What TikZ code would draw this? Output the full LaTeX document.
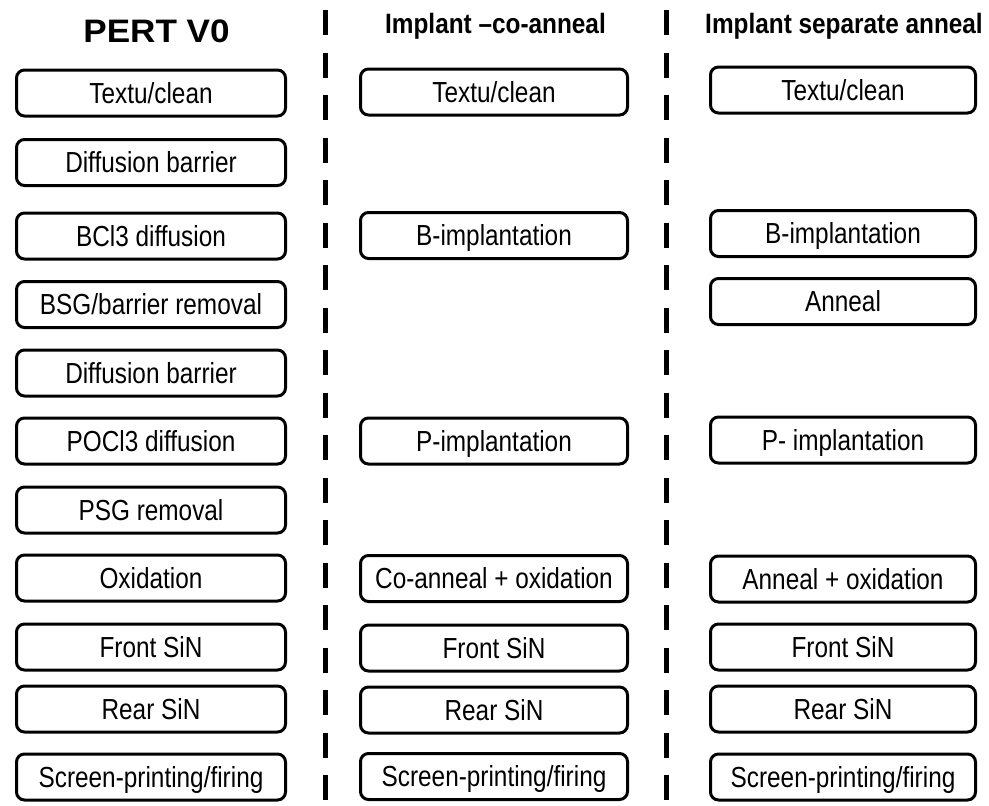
\documentclass[tikz,border=0pt]{standalone}
\usepackage{fontspec}
\newfontfamily\bodyfont[FakeStretch=0.84]{Liberation Sans}
\newfontfamily\headfont[FakeStretch=0.87]{Liberation Sans Bold}
\newfontfamily\pertfont[FakeStretch=1.08]{Liberation Sans Bold}
\tikzset{
  procbox/.style={draw=black, line width=3pt, rounded corners=8pt, fill=white,
    minimum height=46pt, inner sep=0pt, text height=20.8pt, text depth=0pt,
    font=\bodyfont\fontsize{29}{29}\selectfont},
  colA/.style={procbox, minimum width=269pt},
  colB/.style={procbox, minimum width=267pt},
  colC/.style={procbox, minimum width=265pt},
  header/.style={anchor=base, inner sep=0pt, font=\headfont\fontsize{28}{28}\selectfont},
  sepline/.style={line width=5pt, dash pattern=on 25pt off 17.5pt}
}
\begin{document}
\begin{tikzpicture}[x=1pt,y=-1pt]
\useasboundingbox[fill=white] (0,0) rectangle (989,806);
% headers
\node[anchor=base, inner sep=0pt, font=\pertfont\fontsize{32.5}{32.5}\selectfont] (h1) at (156.5,42.5) {PERT V0};
\node[header] (h2) at (495.5,33.3) {Implant –co-anneal};
\node[header] (h3) at (844,33.3) {Implant separate anneal};
% dashed separators
\coordinate (s1a) at (325,10);
\coordinate (s1b) at (325,806);
\coordinate (s2a) at (666,10);
\coordinate (s2b) at (666,806);
\draw[sepline] (s1a) -- (s1b);
\draw[sepline] (s2a) -- (s2b);
% column 1
\node[colA] (a1) at (151,93) {Textu/clean};
\node[colA] (a2) at (151,162.5) {Diffusion barrier};
\node[colA] (a3) at (151,236) {BCl3 diffusion};
\node[colA] (a4) at (151,304.5) {BSG/barrier removal};
\node[colA] (a5) at (151,373) {Diffusion barrier};
\node[colA] (a6) at (151,441) {POCl3 diffusion};
\node[colA] (a7) at (151,510) {PSG removal};
\node[colA] (a8) at (151,578) {Oxidation};
\node[colA] (a9) at (151,647) {Front SiN};
\node[colA] (a10) at (151,709) {Rear SiN};
\node[colA] (a11) at (151,777) {Screen-printing/firing};
% column 2
\node[colB] (b1) at (494,92) {Textu/clean};
\node[colB] (b2) at (494,235.5) {B-implantation};
\node[colB] (b3) at (494,441) {P-implantation};
\node[colB] (b4) at (494,578.5) {Co-anneal + oxidation};
\node[colB] (b5) at (494,648) {Front SiN};
\node[colB] (b6) at (494,710) {Rear SiN};
\node[colB] (b7) at (494,776.5) {Screen-printing/firing};
% column 3
\node[colC] (c1) at (843,90) {Textu/clean};
\node[colC] (c2) at (843,233.5) {B-implantation};
\node[colC] (c3) at (843,301.5) {Anneal};
\node[colC] (c4) at (843,440) {P- implantation};
\node[colC] (c5) at (843,579) {Anneal + oxidation};
\node[colC] (c6) at (843,647) {Front SiN};
\node[colC] (c7) at (843,709) {Rear SiN};
\node[colC] (c8) at (843,777) {Screen-printing/firing};
\end{tikzpicture}
\end{document}
